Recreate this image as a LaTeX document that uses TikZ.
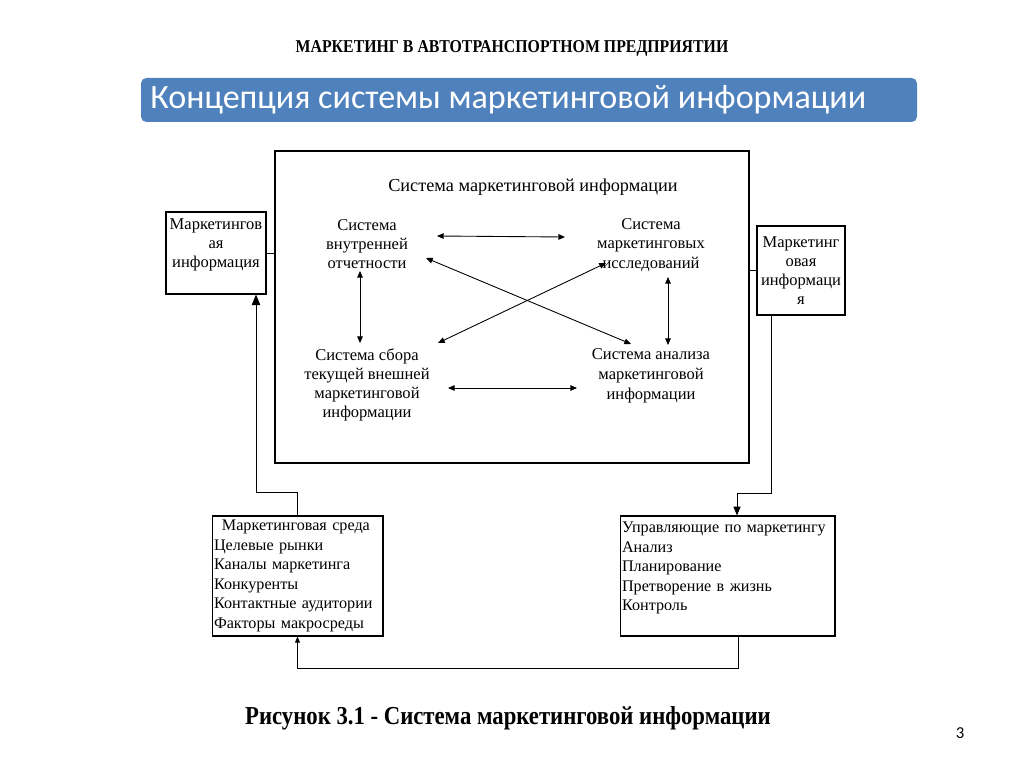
\documentclass[tikz,border=0pt]{standalone}
\usepackage{fontspec}
\setmainfont{Liberation Serif}
\newfontfamily\calibri{Carlito}
\usetikzlibrary{arrows.meta,fit}
\definecolor{barblue}{RGB}{79,129,189}
\def\pxl{0.569pt}
\tikzset{
  txt/.style={font=\fontsize{9.4}{10.9}\selectfont, inner sep=0pt, align=center},
  boxtxt/.style={font=\fontsize{9.2}{11.1}\selectfont, inner sep=0pt},
  box/.style={draw, line width=0.6pt},
  dbl/.style={{Triangle[length=3.8pt,width=3.2pt]}-{Triangle[length=3.8pt,width=3.2pt]}, line width=0.5pt},
  tip/.style={-{Triangle[length=#1,width=0.8*#1]}, line width=0.5pt},
}
\begin{document}
\begin{tikzpicture}[x=0.02cm,y=-0.02cm]
\useasboundingbox (0,0) rectangle (1024,767);
\node (head) at (512,48) {\scalebox{0.875}[1]{\bfseries\fontsize{10.3}{12}\selectfont МАРКЕТИНГ В АВТОТРАНСПОРТНОМ ПРЕДПРИЯТИИ}};
\fill[color=barblue, rounded corners=3pt] (141,78) rectangle (917,122);
\node[anchor=west, text=white, inner sep=0pt] (bartitle) at (150,100) {\calibri\fontsize{19.4}{22}\selectfont Концепция системы маркетинговой информации};
\node[box, line width=0.8pt, inner sep=0pt, fit={(275,151) (749,463)}] (mis) {};
\node[txt, font=\fontsize{10.4}{12}\selectfont] (mistitle) at (533,187) {Система маркетинговой информации};
\node[txt] (vnutr) at (367,244) {Система\\внутренней\\отчетности};
\node[txt] (issl) at (651,245) {Система\\маркетинговых\\исследований};
\node[txt] (sbor) at (367,385) {Система сбора\\текущей внешней\\маркетинговой\\информации};
\node[txt, font=\fontsize{9.4}{11.4}\selectfont] (analiz) at (651,376) {Система анализа\\маркетинговой\\информации};
\draw[dbl] ([shift={(70,-8)}]vnutr.center) -- ([shift={(-86,-8)}]issl.center);
\draw[dbl] ([shift={(81,3)}]sbor.center) -- ([shift={(-74,12)}]analiz.center);
\draw[dbl] ([shift={(-7,27)}]vnutr.center) -- ([shift={(-7,-42)}]sbor.center);
\draw[dbl] ([shift={(17,32)}]issl.center) -- ([shift={(17,-31)}]analiz.center);
\draw[dbl] ([shift={(59,14)}]vnutr.center) -- ([shift={(-20,-32)}]analiz.center);
\draw[dbl] ([shift={(71,-42)}]sbor.center) -- ([shift={(-45,18)}]issl.center);
\node[box, txt, minimum width=100*\pxl, minimum height=82*\pxl] (linfo) at (216,253) {Маркетингов\\ая\\информация\\~};
\node[box, txt, minimum width=88*\pxl, minimum height=89*\pxl] (rinfo) at (801,270.5) {Маркетинг\\овая\\информаци\\я};
\node[box, boxtxt, align=left, text width=167*\pxl, minimum height=120*\pxl, inner xsep=2*\pxl] (env) at (297.5,576) {\hspace*{4.5pt}Маркетинговая среда\\Целевые рынки\\Каналы маркетинга\\Конкуренты\\Контактные аудитории\\Факторы макросреды};
\node[box, boxtxt, align=left, text width=211*\pxl, minimum height=120*\pxl, inner xsep=2*\pxl] (mgr) at (727.5,576) {Управляющие по маркетингу\\Анализ\\Планирование\\Претворение в жизнь\\Контроль\\~};
\draw[line width=0.5pt] (linfo.east) -- (linfo.east -| mis.west);
\draw[line width=0.5pt] (rinfo.west) -- (rinfo.west -| mis.east);
\draw[tip=6pt] (env.north) -- ++(0,-23) -| ([shift={(40,0)}]linfo.south);
\draw[tip=5pt] ([shift={(-30,0)}]rinfo.south) -- ++(0,178) -| ([shift={(9.5,0)}]mgr.north);
\draw[tip=3.5pt] ([shift={(10.5,0)}]mgr.south) -- ++(0,32) -| (env.south);
\node (caption) at (508,718) {\scalebox{0.88}[1]{\bfseries\fontsize{14.7}{16}\selectfont Рисунок 3.1 - Система маркетинговой информации}};
\node (pagenum) at (960,733) {\calibri\fontsize{9.5}{11}\selectfont 3};
\end{tikzpicture}
\end{document}
